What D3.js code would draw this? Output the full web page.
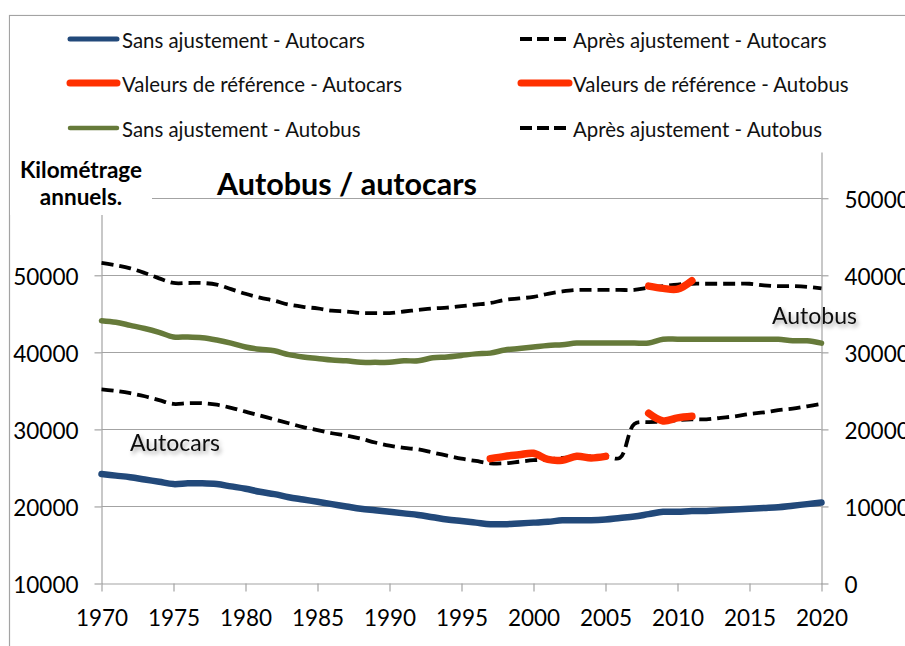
<!DOCTYPE html>
<html>
<head>
<meta charset="utf-8">
<script src="https://cdn.jsdelivr.net/npm/d3@7"></script>
<style>
  body { margin: 0; background: #fff; }
  svg { display: block; font-family: Lato, "Open Sans", sans-serif; }
</style>
</head>
<body>
<svg id="chart" width="905" height="646"></svg>
<script>
// Years on the horizontal axis
const years = d3.range(1970, 2021);

// Autocars (left axis), annual kilometres
const carsRaw = [
  24200, 24000, 23800, 23500, 23200, 22900, 23000, 23000, 22900, 22600,
  22300, 21900, 21600, 21200, 20900, 20600, 20300, 20000, 19700, 19500,
  19300, 19100, 18900, 18600, 18300, 18100, 17900, 17700, 17700, 17800,
  17900, 18000, 18200, 18200, 18200, 18300, 18500, 18700, 19000, 19300,
  19300, 19400, 19400, 19500, 19600, 19700, 19800, 19900, 20100, 20300,
  20500
];
const carsAdj = [
  35200, 35000, 34700, 34300, 33800, 33300, 33400, 33400, 33200, 32800,
  32300, 31800, 31300, 30800, 30300, 29900, 29500, 29200, 28800, 28300,
  27900, 27600, 27400, 27000, 26600, 26200, 25900, 25600, 25600, 25800,
  26000, 26100, 26300, 26400, 26500, 26500, 26300, 30700, 30950, 31000,
  31200, 31300, 31300, 31500, 31700, 32000, 32200, 32500, 32700, 33000,
  33300
];
const refCarsYears = d3.range(1997, 2012);
const refCars = [26200, 26500, 26700, 26900, 26100, 26000, 26500, 26300, 26500,
  null, null, 32100, 31100, 31500, 31700];

// Autobus (right axis), annual kilometres
const busRaw = [
  34100, 33900, 33500, 33100, 32600, 32000, 32000, 31900, 31600, 31200,
  30700, 30400, 30200, 29700, 29400, 29200, 29000, 28900, 28700, 28700,
  28700, 28900, 28900, 29300, 29400, 29600, 29800, 29900, 30300, 30500,
  30700, 30900, 31000, 31200, 31200, 31200, 31200, 31200, 31200, 31700,
  31700, 31700, 31700, 31700, 31700, 31700, 31700, 31700, 31500, 31500,
  31200
];
const busAdj = [
  41600, 41300, 40900, 40300, 39600, 39000, 39000, 39000, 38800, 38200,
  37600, 37100, 36700, 36200, 35900, 35700, 35400, 35300, 35100, 35100,
  35100, 35300, 35500, 35700, 35800, 36000, 36200, 36400, 36800, 37000,
  37200, 37600, 37900, 38100, 38100, 38100, 38100, 38100, 38400, 38600,
  38800, 38900, 38900, 38900, 38900, 38900, 38700, 38600, 38600, 38500,
  38300
];
const refBusYears = [2008, 2009, 2010, 2011];
const refBus = [38600, 38300, 38200, 39300];

// Axis ticks
const yearTicks = d3.range(1970, 2021, 5);
const leftTicks = [10000, 20000, 30000, 40000, 50000];
const rightTicks = [0, 10000, 20000, 30000, 40000, 50000];
const gridValues = [20000, 30000, 40000, 50000, 60000];

const COLORS = { blue: "#22497a", green: "#667a3a", red: "#ff3000", black: "#000" };
const GRID = "#a3a3a3";
const TICK_FONT = 22.5;

const svg = d3.select("#chart");

// Soft shadow for the in-plot series names
const defs = svg.append("defs");
defs.append("filter").attr("id", "shadow")
  .attr("x", "-20%").attr("y", "-40%").attr("width", "140%").attr("height", "180%")
  .append("feDropShadow")
  .attr("dx", 2).attr("dy", 3).attr("stdDeviation", 2)
  .attr("flood-color", "#000").attr("flood-opacity", 0.35);

const x = d3.scaleLinear().domain([1970, 2020]).range([101.5, 821.5]);
const yL = d3.scaleLinear().domain([10000, 66000]).range([583.5, 152]);
const yR = d3.scaleLinear().domain([0, 56000]).range([583.5, 152]);

// Outer frame
svg.append("rect")
  .attr("x", 9.5).attr("y", 15.5).attr("width", 1000).attr("height", 1000)
  .attr("fill", "none").attr("stroke", GRID).attr("stroke-width", 1.2);

// Horizontal gridlines
svg.append("g").selectAll("line").data(gridValues).join("line")
  .attr("x1", x(1970)).attr("x2", x(2020))
  .attr("y1", d => Math.round(yL(d)) + 0.5).attr("y2", d => Math.round(yL(d)) + 0.5)
  .attr("stroke", GRID).attr("stroke-width", 1.2);

// Series names drawn inside the plot
const inLabels = svg.append("g")
  .attr("font-size", 23).attr("fill", "#111").attr("filter", "url(#shadow)");
inLabels.append("text").attr("x", 130).attr("y", 451).text("Autocars");
inLabels.append("text").attr("x", 772).attr("y", 324).text("Autobus");

function styleAxis(g) {
  g.selectAll("path, line").attr("stroke", GRID).attr("stroke-width", 1.2);
  g.selectAll("text").attr("fill", "#000").attr("font-size", TICK_FONT)
    .attr("font-family", "Lato, 'Open Sans', sans-serif");
}

svg.append("g")
  .attr("transform", `translate(${x(1970)},0)`)
  .call(d3.axisLeft(yL).tickValues(leftTicks).tickSize(7).tickSizeOuter(0)
    .tickPadding(16).tickFormat(d3.format("d")))
  .call(styleAxis)
  .call(g => g.selectAll("text").attr("dy", "0.4em"));

svg.append("g")
  .attr("transform", `translate(${x(2020)},0)`)
  .call(d3.axisRight(yR).tickValues(rightTicks).tickSize(7).tickSizeOuter(0)
    .tickPadding(16).tickFormat(d3.format("d")))
  .call(styleAxis)
  .call(g => g.selectAll("text").attr("dy", "0.4em"));

svg.append("g")
  .attr("transform", `translate(0,${yL(10000)})`)
  .call(d3.axisBottom(x).tickValues(yearTicks).tickSize(8).tickSizeOuter(0)
    .tickPadding(19).tickFormat(d3.format("d")))
  .call(styleAxis);

// Series lines
const curve = d3.curveCatmullRom.alpha(0.5);
function drawSeries(xs, vals, yScale, opts) {
  const pts = xs.map((yr, i) => [yr, vals[i]]);
  const line = d3.line()
    .defined(d => d[1] != null)
    .x(d => x(d[0])).y(d => yScale(d[1]))
    .curve(curve);
  svg.append("path").datum(pts)
    .attr("d", line)
    .attr("fill", "none")
    .attr("stroke", opts.color)
    .attr("stroke-width", opts.width)
    .attr("stroke-linecap", opts.dash ? "butt" : "round")
    .attr("stroke-linejoin", "round")
    .attr("stroke-dasharray", opts.dash || null);
}

drawSeries(years, carsRaw, yL, { color: COLORS.blue, width: 6.5 });
drawSeries(years, carsAdj, yL, { color: COLORS.black, width: 3.8, dash: "12,6" });
drawSeries(refCarsYears, refCars, yL, { color: COLORS.red, width: 7.5 });
drawSeries(years, busRaw, yR, { color: COLORS.green, width: 5.5 });
drawSeries(years, busAdj, yR, { color: COLORS.black, width: 3.8, dash: "12,6" });
drawSeries(refBusYears, refBus, yR, { color: COLORS.red, width: 7.5 });

// Legend panel
svg.append("rect")
  .attr("x", 10).attr("y", 16.2).attr("width", 895).attr("height", 135.5)
  .attr("fill", "#fff");

const legendItems = [
  { label: "Sans ajustement - Autocars", color: COLORS.blue, width: 5, col: 0, row: 0 },
  { label: "Après ajustement - Autocars", color: COLORS.black, width: 3.8, dash: "12,5", col: 1, row: 0 },
  { label: "Valeurs de référence - Autocars", color: COLORS.red, width: 7, col: 0, row: 1 },
  { label: "Valeurs de référence - Autobus", color: COLORS.red, width: 7, col: 1, row: 1 },
  { label: "Sans ajustement - Autobus", color: COLORS.green, width: 4.5, col: 0, row: 2 },
  { label: "Après ajustement - Autobus", color: COLORS.black, width: 3.8, dash: "12,5", col: 1, row: 2 }
];
const colX = [{ x1: 70, x2: 117, tx: 122 }, { x1: 521, x2: 569, tx: 573 }];
const rowY = [39, 83, 128];

const legend = svg.append("g");
legendItems.forEach(it => {
  const c = colX[it.col];
  const yy = rowY[it.row];
  legend.append("line")
    .attr("x1", it.dash ? c.x1 - 1 : c.x1).attr("x2", it.dash ? c.x2 - 3 : c.x2)
    .attr("y1", yy).attr("y2", yy)
    .attr("stroke", it.color).attr("stroke-width", it.width)
    .attr("stroke-linecap", it.dash ? "butt" : "round")
    .attr("stroke-dasharray", it.dash || null);
  legend.append("text")
    .attr("x", c.tx).attr("y", yy + 9)
    .attr("font-size", 20.4).attr("fill", "#111")
    .text(it.label);
});

// Axis title block
svg.append("rect")
  .attr("x", 10).attr("y", 151).attr("width", 142).attr("height", 64)
  .attr("fill", "#fff");
const axisTitle = svg.append("g")
  .attr("text-anchor", "middle").attr("font-weight", "bold")
  .attr("font-size", 22.5).attr("fill", "#000");
axisTitle.append("text").attr("x", 81).attr("y", 178).text("Kilométrage");
axisTitle.append("text").attr("x", 81).attr("y", 205).text("annuels.");

// Chart title
svg.append("text")
  .attr("x", 347).attr("y", 195).attr("text-anchor", "middle")
  .attr("font-weight", "bold").attr("font-size", 30.5).attr("fill", "#000")
  .text("Autobus / autocars");
</script>
</body>
</html>
